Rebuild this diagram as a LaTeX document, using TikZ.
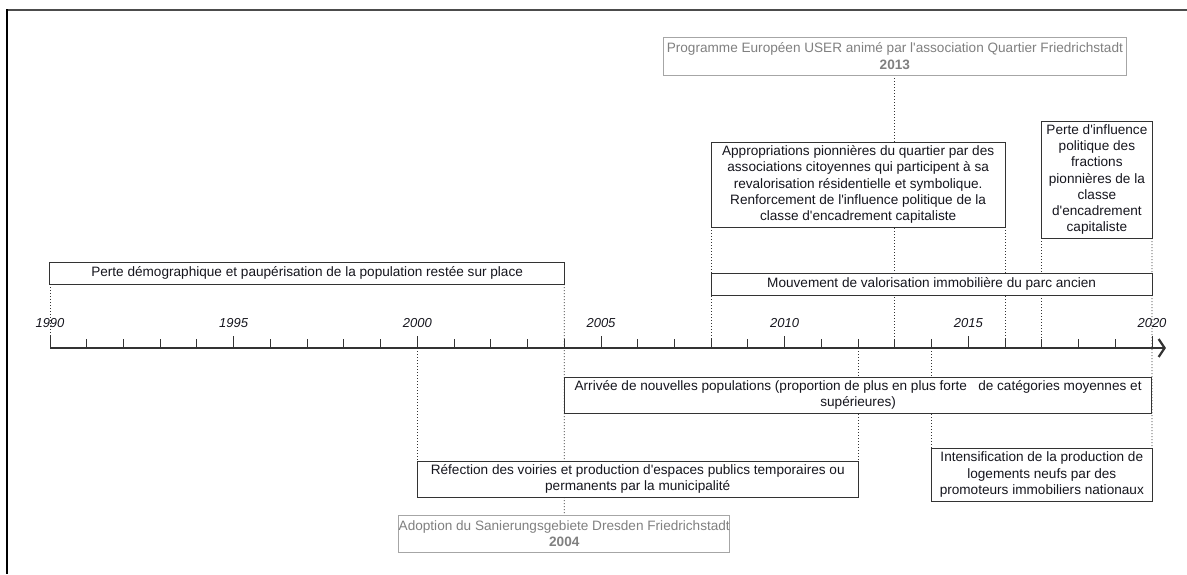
\documentclass[tikz,border=0pt]{standalone}
\usepackage{fontspec}
\setmainfont{Liberation Sans}[Ligatures=TeXOff]
\usetikzlibrary{arrows.meta,backgrounds}
\definecolor{ink}{HTML}{16161E}
\definecolor{edge}{HTML}{333333}
\definecolor{faded}{HTML}{808080}
\definecolor{fadededge}{HTML}{A6A6A6}

\begin{document}
\begin{tikzpicture}[x=36.733pt, y=-1pt,
  font=\fontsize{13.6}{16.2}\selectfont,
  evt/.style={draw=edge, line width=1pt, fill=white, text=ink, align=center, inner sep=0pt, outer sep=0pt},
  src/.style={draw=fadededge, line width=1pt, fill=white, text=faded, align=center, inner sep=0pt, outer sep=0pt},
  guide/.style={edge, line width=0.8pt, dash pattern=on 1pt off 2pt},
  notch/.style={edge, line width=1pt},
  yr/.style={font=\fontsize{13}{13}\selectfont\itshape, text=ink}]

  \useasboundingbox (-1.3612,0) rectangle (30.953,574);
  \draw[line width=2pt, black!70] (-1.1706,10) -- (30.953,10);
  \draw[line width=2pt, black] (-1.1706,9) -- (-1.1706,574);

  % time axis
  \coordinate (t0) at (0,348);
  \coordinate (tend) at (30.38,348);
  \draw[edge, line width=1.2pt, -{Straight Barb[length=6pt,width=18pt,line width=2.2pt]}] (t0) -- (tend);
  \foreach \y in {1,...,29} \draw[notch] (\y,348) -- ++(0,-9);
  \foreach \y [evaluate=\y as \lab using int(1990+\y)] in {0,5,...,30} {
    \draw[notch] (\y,348) -- ++(0,-12);
    \node[yr] (y\lab) at (\y,323) {\lab};
  }

  % events above the axis
  \node[src, minimum width=463pt, minimum height=38pt] (user) at (23,56)
    {Programme Européen USER animé par l'association Quartier Friedrichstadt\\\textbf{2013}};
  \node[evt, minimum width=293.9pt, minimum height=85pt] (appro) at (22,184.5)
    {Appropriations pionnières du quartier par des\\associations citoyennes qui participent à sa\\revalorisation résidentielle et symbolique.\\Renforcement de l'influence politique de la\\classe d'encadrement capitaliste};
  \node[evt, minimum width=110.2pt, minimum height=117pt] (pinfl) at (28.5,179.5)
    {Perte d'influence\\politique des\\fractions\\pionnières de la\\classe\\d'encadrement\\capitaliste};
  \node[evt, minimum width=514.3pt, minimum height=22pt] (demog) at (7,273)
    {Perte démographique et paupérisation de la population restée sur place};
  \node[evt, minimum width=440.8pt, minimum height=22pt] (mouv) at (24,284)
    {Mouvement de valorisation immobilière du parc ancien};

  % events below the axis
  \node[evt, minimum width=587.7pt, minimum height=36pt] (arriv) at (22,395)
    {Arrivée de nouvelles populations (proportion de plus en plus forte\ \ \ de catégories moyennes et\\supérieures)};
  \node[evt, minimum width=440.8pt, minimum height=36pt] (refec) at (16,479)
    {Réfection des voiries et production d'espaces publics temporaires ou\\permanents par la municipalité};
  \node[evt, minimum width=220.4pt, minimum height=53pt] (intens) at (27,474.5)
    {Intensification de la production de\\logements neufs par des\\promoteurs immobiliers nationaux};
  \node[src, minimum width=331pt, minimum height=37pt] (adopt) at (14,533.5)
    {Adoption du Sanierungsgebiete Dresden Friedrichstadt\\\textbf{2004}};

  \begin{scope}[on background layer]
    \draw[guide] (demog.south west) -- (demog.south west |- t0);
    \draw[guide] (demog.south east) -- (adopt.north);
    \draw[guide] (appro.south west) -- (appro.south west |- t0);
    \draw[guide] (user.south) -- (user.south |- t0);
    \draw[guide] (appro.south east) -- (appro.south east |- t0);
    \draw[guide] (pinfl.south west) -- (pinfl.south west |- t0);
    \draw[guide] (pinfl.south east) -- (intens.north east);
    \draw[guide] (refec.north west |- t0) -- (refec.north west);
    \draw[guide] (refec.north east |- t0) -- (refec.north east);
    \draw[guide] (intens.north west |- t0) -- (intens.north west);
  \end{scope}
\end{tikzpicture}
\end{document}
